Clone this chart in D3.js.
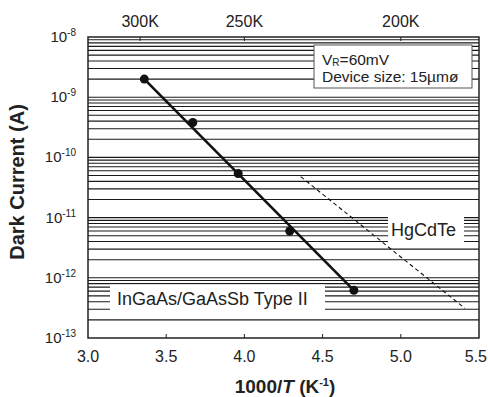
<!DOCTYPE html>
<html>
<head>
<meta charset="utf-8">
<script src="https://cdn.jsdelivr.net/npm/d3@7"></script>
<style>
  body { margin: 0; background: #fff; }
  text { font-family: "Liberation Sans", Arial, Helvetica, sans-serif; fill: #222; }
</style>
</head>
<body>
<script>
// measured points (1000/T, dark current)
var invT = [3.36, 3.67, 3.96, 4.29, 4.70];
var current = [2.0e-9, 3.8e-10, 5.4e-11, 6.0e-12, 6.2e-13];
// fitted line through the InGaAs/GaAsSb points
var fitT = [3.36, 4.70];
var fitI = [2.0e-9, 6.2e-13];
// HgCdTe reference (dashed)
var hgT = [4.36, 5.41];
var hgI = [4.8e-11, 3.1e-13];
// ticks
var xTicks = [3.0, 3.5, 4.0, 4.5, 5.0, 5.5];
var yDecades = [-13, -12, -11, -10, -9, -8];
var tempTicks = [300, 250, 200];

var W = 488, H = 397;
var pL = 88, pR = 479, pT = 37, pB = 338;

var x = d3.scaleLinear().domain([3.0, 5.5]).range([pL, pR]);
var y = d3.scaleLog().domain([1e-13, 1e-8]).range([pB, pT]);

var svg = d3.select("body").append("svg")
    .attr("width", W)
    .attr("height", H);

// horizontal grid at every minor log tick
var grid = y.ticks().filter(function(d) { return d > 1.0001e-13 && d < 0.9999e-8; });
svg.append("g").selectAll("line")
    .data(grid)
  .enter().append("line")
    .attr("x1", pL).attr("x2", pR)
    .attr("y1", function(d) { return y(d); })
    .attr("y2", function(d) { return y(d); })
    .attr("stroke", "#1a1a1a")
    .attr("stroke-width", 1.1);

// white label backgrounds that hide the grid
svg.append("rect").attr("x", 110).attr("y", 284.5).attr("width", 215).attr("height", 28.5).attr("fill", "#fff");
svg.append("rect").attr("x", 388).attr("y", 214.5).attr("width", 76).attr("height", 31).attr("fill", "#fff");
svg.append("rect").attr("x", 314).attr("y", 45).attr("width", 158).attr("height", 43)
    .attr("fill", "#fff").attr("stroke", "#555").attr("stroke-width", 1);

// HgCdTe dashed line
svg.append("line")
    .attr("x1", x(hgT[0])).attr("y1", y(hgI[0]))
    .attr("x2", x(hgT[1])).attr("y2", y(hgI[1]))
    .attr("stroke", "#111").attr("stroke-width", 1.1)
    .attr("stroke-dasharray", "4,3");

// fit line
var line = d3.line()
    .x(function(d) { return x(d[0]); })
    .y(function(d) { return y(d[1]); });
svg.append("path")
    .datum(d3.zip(fitT, fitI))
    .attr("d", line)
    .attr("fill", "none")
    .attr("stroke", "#111")
    .attr("stroke-width", 2.6);

// points
svg.append("g").selectAll("circle")
    .data(d3.zip(invT, current))
  .enter().append("circle")
    .attr("cx", function(d) { return x(d[0]); })
    .attr("cy", function(d) { return y(d[1]); })
    .attr("r", 4.5)
    .attr("fill", "#111");

// frame
svg.append("rect")
    .attr("x", pL).attr("y", pT)
    .attr("width", pR - pL).attr("height", pB - pT)
    .attr("fill", "none").attr("stroke", "#222").attr("stroke-width", 1.5);

// bottom axis ticks (inward) and labels
svg.append("g").selectAll("line")
    .data(xTicks.slice(1, -1))
  .enter().append("line")
    .attr("x1", function(d) { return x(d); }).attr("x2", function(d) { return x(d); })
    .attr("y1", pB).attr("y2", pB - 4)
    .attr("stroke", "#222");
svg.append("g").selectAll("text")
    .data(xTicks)
  .enter().append("text")
    .attr("x", function(d, i) { return i === xTicks.length - 1 ? W - 1 : x(d); })
    .attr("y", 362)
    .attr("text-anchor", function(d, i) { return i === xTicks.length - 1 ? "end" : "middle"; })
    .attr("font-size", 16)
    .text(function(d) { return d.toFixed(1); });

// top axis: temperature
svg.append("g").selectAll("line")
    .data(tempTicks)
  .enter().append("line")
    .attr("x1", function(d) { return x(1000 / d); }).attr("x2", function(d) { return x(1000 / d); })
    .attr("y1", pT).attr("y2", pT + 4)
    .attr("stroke", "#222");
svg.append("g").selectAll("text")
    .data(tempTicks)
  .enter().append("text")
    .attr("x", function(d) { return x(1000 / d); })
    .attr("y", 27)
    .attr("text-anchor", "middle")
    .attr("font-size", 16)
    .text(function(d) { return d + "K"; });

// left axis labels 10^n
var yl = svg.append("g").selectAll("text")
    .data(yDecades)
  .enter().append("text")
    .attr("x", 76)
    .attr("y", function(d) { return y(Math.pow(10, d)) + 5; })
    .attr("text-anchor", "end")
    .attr("font-size", 15);
yl.append("tspan").text("10");
yl.append("tspan").attr("dy", -6).attr("font-size", 10).text(function(d) { return d; });

// axis titles
svg.append("text")
    .attr("transform", "translate(24,182) rotate(-90)")
    .attr("text-anchor", "middle")
    .attr("font-size", 20)
    .attr("font-weight", "bold")
    .text("Dark Current (A)");

var xt = svg.append("text")
    .attr("x", 285).attr("y", 393)
    .attr("text-anchor", "middle")
    .attr("font-size", 19)
    .attr("font-weight", "bold");
xt.append("tspan").text("1000/");
xt.append("tspan").attr("font-style", "italic").text("T");
xt.append("tspan").text(" (K");
xt.append("tspan").attr("dy", -7).attr("font-size", 11).text("-1");
xt.append("tspan").attr("dy", 7).text(")");

// legend text
var l1 = svg.append("text").attr("x", 322).attr("y", 65).attr("font-size", 15.5);
l1.append("tspan").text("V");
l1.append("tspan").attr("font-size", 10).attr("dy", 1).text("R");
l1.append("tspan").attr("dy", -1).text("=60mV");
svg.append("text").attr("x", 322).attr("y", 82).attr("font-size", 15.5)
    .text("Device size: 15\u00b5m\u00f8");

// series labels
svg.append("text").attr("x", 117).attr("y", 305).attr("font-size", 18)
    .text("InGaAs/GaAsSb Type II");
svg.append("text").attr("x", 391).attr("y", 236).attr("font-size", 18)
    .text("HgCdTe");
</script>
</body>
</html>
